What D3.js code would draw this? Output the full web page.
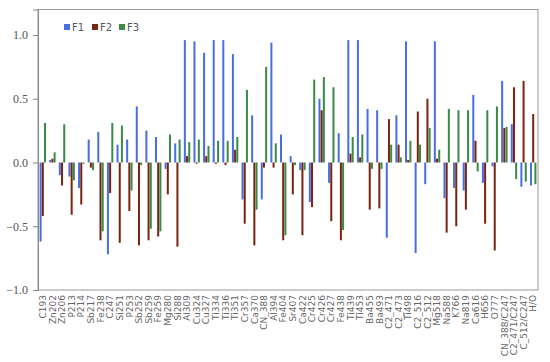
<!DOCTYPE html>
<html><head><meta charset="utf-8">
<script src="https://cdn.jsdelivr.net/npm/d3@7/dist/d3.min.js"></script>
<style>body{margin:0;background:#fff}svg{display:block}</style>
</head><body>
<script>
const categories = ["C193","Zn202","Zn206","P213","P214","Sb217","Fe238","C247","Si251","P253","Sb252","Sb259","Fe259","Mg280","Si288","Al309","Cu324","Cu327","Ti334","Ti336","Ti351","Cr357","Ca370","CN_388","Al394","Fe404","Sr407","Ca422","Cr425","Cr426","Cr427","Fe438","Ti439","Ti453","Ba455","Ba493","C2_471","C2_473","Ti498","C2_516","C2_512","Mg518","Na588","K766","Na819","Ca616","H656","O777","CN_388/C247","C2_471/C247","C_512/C247","H/O"];
const F1 = [-0.62,0.02,-0.10,-0.11,-0.20,0.18,0.24,-0.72,0.14,0.18,0.44,0.25,0.20,-0.05,0.15,0.96,0.95,0.86,0.96,0.96,0.85,-0.29,0.37,-0.29,0.94,0.22,0.05,-0.06,-0.31,0.50,-0.16,0.23,0.96,0.96,0.42,0.41,-0.59,0.37,0.95,-0.71,-0.17,0.95,-0.28,-0.20,-0.22,0.53,-0.16,-0.03,0.64,0.30,-0.19,-0.18];
const F2 = [-0.42,0.03,-0.18,-0.41,-0.33,-0.04,-0.61,-0.24,-0.63,-0.38,-0.65,-0.61,-0.58,-0.25,-0.66,0.05,-0.01,0.05,-0.01,-0.02,0.10,-0.48,-0.65,-0.04,-0.04,-0.61,-0.25,-0.57,-0.35,0.41,-0.46,-0.61,0.07,0.04,-0.37,-0.36,0.34,0.14,0.02,0.40,0.50,0.03,-0.55,-0.50,-0.37,0.17,-0.48,-0.69,0.27,0.59,0.64,0.38];
const F3 = [0.31,0.08,0.30,-0.14,-0.01,-0.06,-0.54,0.31,0.29,-0.22,-0.02,-0.52,-0.54,0.22,0.18,0.16,0.18,0.13,0.17,0.17,0.20,0.57,-0.37,0.75,0.15,-0.57,-0.02,-0.06,0.65,0.67,0.59,-0.53,0.20,0.22,-0.05,-0.05,0.14,0.04,0.17,0.14,0.27,0.10,0.42,0.41,0.41,-0.07,0.41,0.44,0.28,-0.13,-0.15,-0.17];
const seriesNames = ["F1","F2","F3"];
const seriesColors = ["#4a6fe0","#7a2412","#3d8a48"];
const yTicks = [-1.0,-0.5,0.0,0.5,1.0];

const W = 550, H = 362;
const m = {left:38, right:12, top:9.5, bottom:72};
const svg = d3.select("body").append("svg").attr("width",W).attr("height",H);

const x0 = d3.scaleBand().domain(categories).range([m.left, W-m.right]).padding(0);
const x1 = d3.scaleBand().domain(seriesNames).range([0, x0.bandwidth()]).paddingInner(0.08).paddingOuter(0.73);
const y = d3.scaleLinear().domain([-1, 1.2]).range([H-m.bottom, m.top]);

const series = [F1,F2,F3];
const g = svg.append("g");
series.forEach((vals,si)=>{
  g.selectAll(null).data(vals).enter().append("rect")
    .attr("x",(d,i)=>x0(categories[i])+x1(seriesNames[si]))
    .attr("width",x1.bandwidth())
    .attr("y",d=>y(Math.max(0,d)))
    .attr("height",d=>Math.abs(y(d)-y(0)))
    .attr("fill",seriesColors[si]);
});

// frame
svg.append("rect").attr("x",m.left).attr("y",m.top)
  .attr("width",W-m.right-m.left).attr("height",H-m.bottom-m.top)
  .attr("fill","none").attr("stroke","#999").attr("stroke-width",1);

// y axis
const ya = svg.append("g").attr("transform",`translate(${m.left},0)`)
  .call(d3.axisLeft(y).tickValues(yTicks).tickSize(5).tickPadding(5)
    .tickFormat(d=>d3.format(".1f")(d).replace("-","\u2212")));
ya.select(".domain").attr("stroke","#888");
ya.selectAll(".tick line").attr("stroke","#888");
ya.selectAll("text").attr("font-family","'Liberation Serif','DejaVu Serif',serif").attr("font-size",12).attr("fill","#555");

// x axis labels
const xa = svg.append("g").attr("transform",`translate(0,${H-m.bottom})`)
  .call(d3.axisBottom(x0).tickSize(0).tickPadding(4));
xa.select(".domain").remove();
xa.selectAll("text").attr("font-family","'DejaVu Sans',sans-serif").attr("font-size",9).attr("fill","#666")
  .attr("transform","rotate(-90)").attr("text-anchor","end").attr("x",-5).attr("y",0).attr("dy","0.35em");

// legend
const lg = svg.append("g");
const legX = [64, 92, 119];
seriesNames.forEach((n,i)=>{
  lg.append("rect").attr("x",legX[i]).attr("y",24).attr("width",6).attr("height",6).attr("fill",seriesColors[i]);
  lg.append("text").attr("x",legX[i]+8).attr("y",27).attr("dy","0.35em")
    .attr("font-family","'DejaVu Sans',sans-serif").attr("font-size",10).attr("fill","#556").text(n);
});
</script>
</body></html>
